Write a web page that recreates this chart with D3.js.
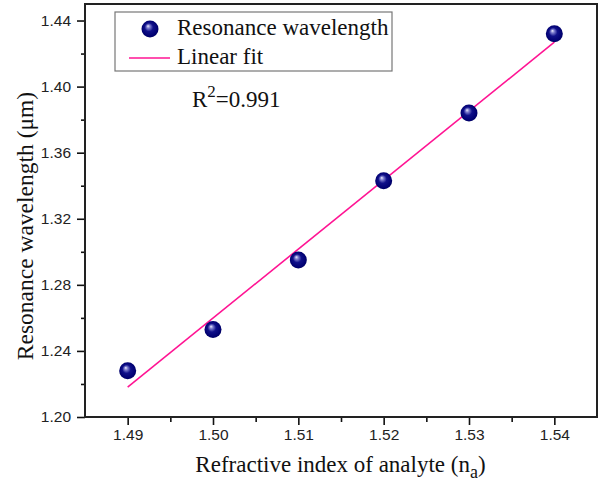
<!DOCTYPE html>
<html>
<head>
<meta charset="utf-8">
<script src="https://cdn.jsdelivr.net/npm/d3@7/dist/d3.min.js"></script>
<style>
  html, body { margin: 0; padding: 0; background: #fff; }
  svg { display: block; }
</style>
</head>
<body>
<svg id="chart" width="602" height="483"></svg>
<script>
// Refractive index of the analyte and the measured resonance wavelength (µm)
const refractiveIndex = [1.49, 1.50, 1.51, 1.52, 1.53, 1.54];
const resonanceWavelength = [1.228, 1.253, 1.295, 1.343, 1.384, 1.432];
const xTicks = [1.49, 1.50, 1.51, 1.52, 1.53, 1.54];
const yTicks = [1.20, 1.24, 1.28, 1.32, 1.36, 1.40, 1.44];
const rSquaredText = "0.991";

const svg = d3.select("#chart");
const margin = { left: 85, top: 4, right: 5, bottom: 66 };
const W = 602, H = 483;

const x = d3.scaleLinear().domain([1.485, 1.545]).range([margin.left, W - margin.right]);
const y = d3.scaleLinear().domain([1.20, 1.45]).range([H - margin.bottom, margin.top]);

const serif = "'Liberation Serif', 'Times New Roman', serif";
const sans = "'Liberation Sans', Arial, sans-serif";

// Shaded sphere used for the data markers
const defs = svg.append("defs");
const grad = defs.append("radialGradient")
  .attr("id", "sphere").attr("cx", "50%").attr("cy", "50%").attr("r", "55%")
  .attr("fx", "38%").attr("fy", "32%");
grad.append("stop").attr("offset", "0%").attr("stop-color", "#f0f0ff");
grad.append("stop").attr("offset", "18%").attr("stop-color", "#8080d0");
grad.append("stop").attr("offset", "45%").attr("stop-color", "#10108a");
grad.append("stop").attr("offset", "85%").attr("stop-color", "#000070");
grad.append("stop").attr("offset", "100%").attr("stop-color", "#000050");

// Axes: major ticks with labels, minor ticks in between
const xAxis = d3.axisBottom(x).tickValues(xTicks).tickFormat(d3.format(".2f")).tickSizeInner(8).tickSizeOuter(0).tickPadding(4);
const xMinor = d3.axisBottom(x).tickValues([1.495, 1.505, 1.515, 1.525, 1.535]).tickFormat("").tickSizeInner(5).tickSizeOuter(0);
const yAxis = d3.axisLeft(y).tickValues(yTicks).tickFormat(d3.format(".2f")).tickSizeInner(8).tickSizeOuter(0).tickPadding(6);
const yMinor = d3.axisLeft(y).tickValues([1.22, 1.26, 1.30, 1.34, 1.38, 1.42]).tickFormat("").tickSizeInner(4).tickSizeOuter(0);

function styleAxis(g) {
  g.select(".domain").remove();
  g.selectAll(".tick line").attr("stroke", "#111").attr("stroke-width", 1.6);
  g.selectAll(".tick text").attr("font-family", sans).attr("font-size", 15.5).attr("fill", "#222");
}

svg.append("g").attr("transform", `translate(0,${y(1.20)})`).call(xMinor).call(styleAxis);
svg.append("g").attr("transform", `translate(0,${y(1.20)})`).call(xAxis).call(styleAxis);
svg.append("g").attr("transform", `translate(${x(1.485)},0)`).call(yMinor).call(styleAxis);
svg.append("g").attr("transform", `translate(${x(1.485)},0)`).call(yAxis).call(styleAxis);

// Plot frame
svg.append("rect")
  .attr("x", x(1.485)).attr("y", y(1.45))
  .attr("width", x(1.545) - x(1.485)).attr("height", y(1.20) - y(1.45))
  .attr("fill", "none").attr("stroke", "#222").attr("stroke-width", 2);

// Least-squares linear fit through the measured points
const mx = d3.mean(refractiveIndex), my = d3.mean(resonanceWavelength);
const sxy = d3.sum(refractiveIndex, (v, i) => (v - mx) * (resonanceWavelength[i] - my));
const sxx = d3.sum(refractiveIndex, v => (v - mx) ** 2);
const slope = sxy / sxx, intercept = my - slope * mx;
const fitX = d3.extent(refractiveIndex);

svg.append("line")
  .attr("x1", x(fitX[0])).attr("y1", y(intercept + slope * fitX[0]))
  .attr("x2", x(fitX[1])).attr("y2", y(intercept + slope * fitX[1]))
  .attr("stroke", "#ff1493").attr("stroke-width", 1.6);

svg.append("g").selectAll("circle")
  .data(refractiveIndex.map((v, i) => [v, resonanceWavelength[i]]))
  .join("circle")
  .attr("cx", d => x(d[0])).attr("cy", d => y(d[1]))
  .attr("r", 8.5).attr("fill", "url(#sphere)");

// Legend
const lg = svg.append("g");
lg.append("rect").attr("x", 115).attr("y", 12).attr("width", 277).attr("height", 59)
  .attr("fill", "#fff").attr("stroke", "#777").attr("stroke-width", 1.2);
lg.append("circle").attr("cx", 150).attr("cy", 29).attr("r", 8.5).attr("fill", "url(#sphere)");
lg.append("line").attr("x1", 129).attr("x2", 170).attr("y1", 58).attr("y2", 58)
  .attr("stroke", "#ff1493").attr("stroke-width", 1.6);
lg.append("text").attr("x", 177).attr("y", 35).attr("font-family", serif).attr("font-size", 23)
  .attr("fill", "#111").text("Resonance wavelength");
lg.append("text").attr("x", 177).attr("y", 64).attr("font-family", serif).attr("font-size", 23)
  .attr("fill", "#111").text("Linear fit");

// Goodness of fit
const r2 = svg.append("text").attr("x", 192).attr("y", 107).attr("font-family", serif)
  .attr("font-size", 23).attr("fill", "#111");
r2.append("tspan").text("R");
r2.append("tspan").attr("dy", -10).attr("font-size", 17).text("2");
r2.append("tspan").attr("dy", 10).text("=" + rSquaredText);

// Axis titles
const xt = svg.append("text").attr("x", 340.5).attr("y", 472).attr("text-anchor", "middle")
  .attr("font-family", serif).attr("font-size", 23).attr("fill", "#111");
xt.append("tspan").text("Refractive index of analyte (n");
xt.append("tspan").attr("dy", 6).attr("font-size", 18).text("a");
xt.append("tspan").attr("dy", -6).text(")");

svg.append("text").attr("transform", `translate(33,226) rotate(-90)`).attr("text-anchor", "middle")
  .attr("font-family", serif).attr("font-size", 23.5).attr("fill", "#111")
  .text("Resonance wavelength (\u03bcm)");
</script>
</body>
</html>
